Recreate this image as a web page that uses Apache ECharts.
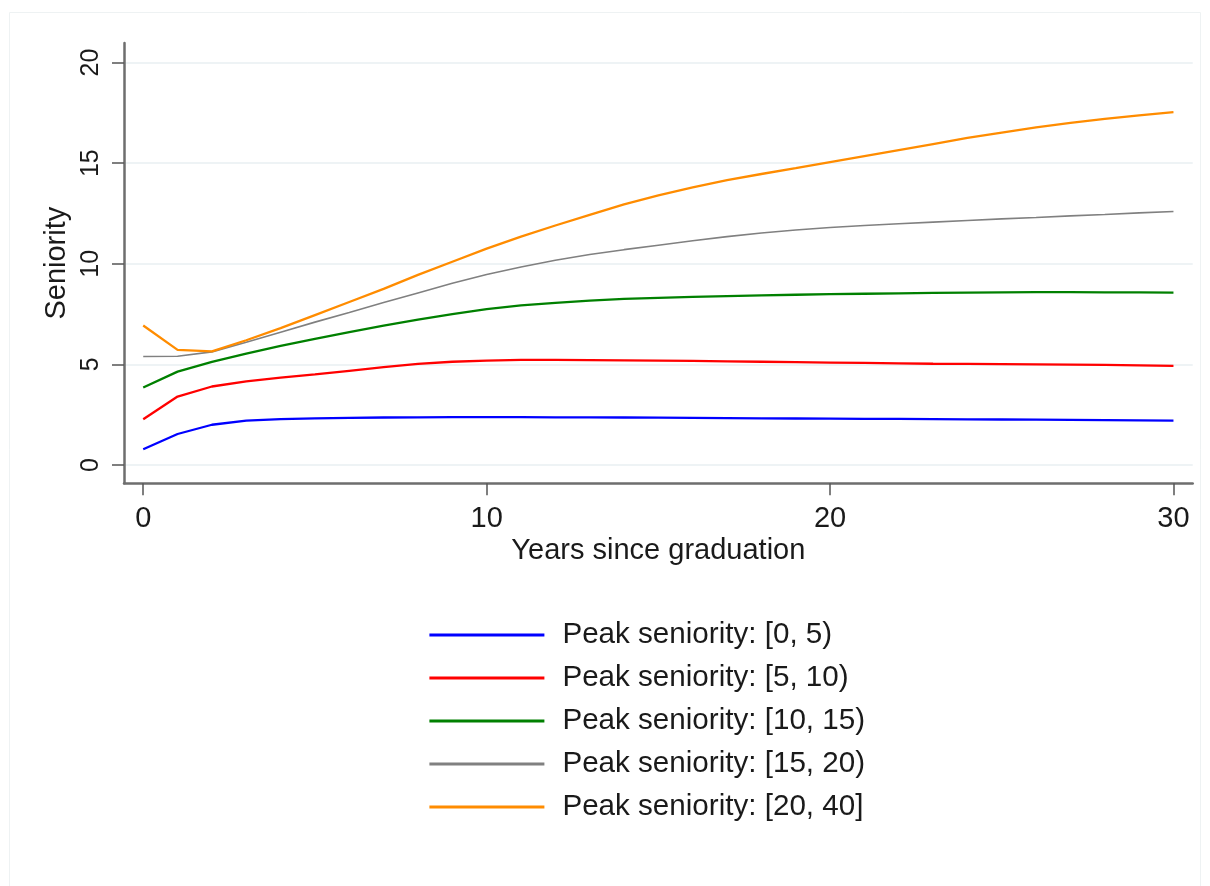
<!DOCTYPE html>
<html>
<head>
<meta charset="utf-8">
<script src="https://cdn.jsdelivr.net/npm/echarts@6/dist/echarts.min.js"></script>
<style>
  html, body { margin: 0; padding: 0; background: #ffffff; }
  #chart { width: 1210px; height: 886px; }
</style>
</head>
<body>
<div id="chart"></div>
<script>
// Years since graduation (x) and mean seniority per peak-seniority group
const years = [0,1,2,3,4,5,6,7,8,9,10,11,12,13,14,15,16,17,18,19,20,21,22,23,24,25,26,27,28,29,30];

const peak0to5   = [0.78,1.54,2.00,2.20,2.28,2.32,2.34,2.36,2.37,2.38,2.38,2.38,2.37,2.37,2.36,2.35,2.34,2.33,2.32,2.31,2.30,2.29,2.29,2.28,2.27,2.26,2.25,2.24,2.23,2.22,2.20];
const peak5to10  = [2.27,3.40,3.90,4.15,4.34,4.50,4.68,4.86,5.02,5.13,5.19,5.22,5.22,5.21,5.20,5.19,5.17,5.15,5.13,5.11,5.09,5.07,5.05,5.03,5.02,5.01,5.00,4.99,4.97,4.95,4.93];
const peak10to15 = [3.85,4.64,5.12,5.53,5.92,6.27,6.60,6.92,7.22,7.50,7.75,7.93,8.06,8.17,8.25,8.30,8.35,8.39,8.43,8.46,8.49,8.51,8.53,8.55,8.57,8.58,8.59,8.59,8.58,8.58,8.57];
const peak15to20 = [5.39,5.40,5.62,6.10,6.60,7.10,7.58,8.07,8.55,9.03,9.47,9.84,10.17,10.46,10.70,10.92,11.14,11.35,11.53,11.68,11.80,11.90,11.99,12.07,12.15,12.23,12.30,12.38,12.45,12.53,12.60];
const peak20to40 = [6.93,5.72,5.65,6.20,6.80,7.45,8.10,8.75,9.45,10.10,10.75,11.35,11.90,12.43,12.95,13.40,13.80,14.15,14.46,14.75,15.05,15.35,15.65,15.95,16.25,16.52,16.78,17.00,17.20,17.37,17.53];

const seriesNames = [
  'Peak seniority: [0, 5)',
  'Peak seniority: [5, 10)',
  'Peak seniority: [10, 15)',
  'Peak seniority: [15, 20)',
  'Peak seniority: [20, 40]'
];
const seriesValues = [peak0to5, peak5to10, peak10to15, peak15to20, peak20to40];
const seriesColors = ['#0000ff', '#ff0000', '#008000', '#808080', '#ff8c00'];
const seriesWidths = [2.3, 2.3, 2.3, 1.6, 2.3];

const xTicks = [0, 10, 20, 30];
const yTicks = [0, 5, 10, 15, 20];

const FONT = '"Liberation Sans", Arial, Helvetica, sans-serif';
const TEXT = '#1a1a1a';

const chart = echarts.init(document.getElementById('chart'), null, { renderer: 'canvas' });

const series = seriesNames.map((name, i) => ({
  name: name,
  type: 'line',
  data: years.map((x, k) => [x, seriesValues[i][k]]),
  showSymbol: false,
  symbol: 'none',
  smooth: false,
  lineStyle: { color: seriesColors[i], width: seriesWidths[i] },
  itemStyle: { color: seriesColors[i] },
  emphasis: { disabled: true },
  z: 3
}));

chart.setOption({
  backgroundColor: '#ffffff',
  animation: false,
  graphic: [{
    type: 'rect',
    shape: { x: 9.5, y: 12.5, width: 1191, height: 880 },
    style: { fill: 'none', stroke: '#eef2f3', lineWidth: 1 },
    silent: true, z: -1
  }],
  grid: { left: 124, right: 17.3, top: 43, bottom: 402.7, containLabel: false },
  xAxis: {
    type: 'value',
    min: -0.56,
    max: 30.56,
    name: 'Years since graduation',
    nameLocation: 'middle',
    nameGap: 53,
    nameTextStyle: { fontFamily: FONT, fontSize: 29, color: TEXT },
    axisLine: { show: true, onZero: false, lineStyle: { color: '#6e6e6e', width: 2.5 } },
    axisTick: { show: true, customValues: xTicks, length: 12, lineStyle: { color: '#555555', width: 1.5 } },
    axisLabel: { customValues: xTicks, margin: 21, fontFamily: FONT, fontSize: 29, color: TEXT },
    splitLine: { show: false }
  },
  yAxis: {
    type: 'value',
    min: -0.91,
    max: 20.97,
    name: 'Seniority',
    nameLocation: 'middle',
    nameGap: 44,
    nameRotate: 90,
    nameTextStyle: { fontFamily: FONT, fontSize: 29, color: TEXT },
    axisLine: { show: true, onZero: false, lineStyle: { color: '#6e6e6e', width: 2.5 } },
    axisTick: { show: true, customValues: yTicks, length: 12, lineStyle: { color: '#555555', width: 1.5 } },
    axisLabel: { customValues: yTicks, rotate: 90, margin: 20, fontFamily: FONT, fontSize: 25, color: TEXT },
    splitLine: { show: true, lineStyle: { color: '#eef3f5', width: 2 } }
  },
  legend: {
    orient: 'vertical',
    left: 428,
    top: 620,
    padding: 0,
    itemWidth: 115,
    itemHeight: 14,
    itemGap: 13,
    itemStyle: { opacity: 0 },
    lineStyle: { width: 2.8 },
    textStyle: { fontFamily: FONT, fontSize: 29.6, color: TEXT, padding: [0, 0, 0, 13] },
    selectedMode: false,
    data: seriesNames
  },
  series: series
});
</script>
</body>
</html>
